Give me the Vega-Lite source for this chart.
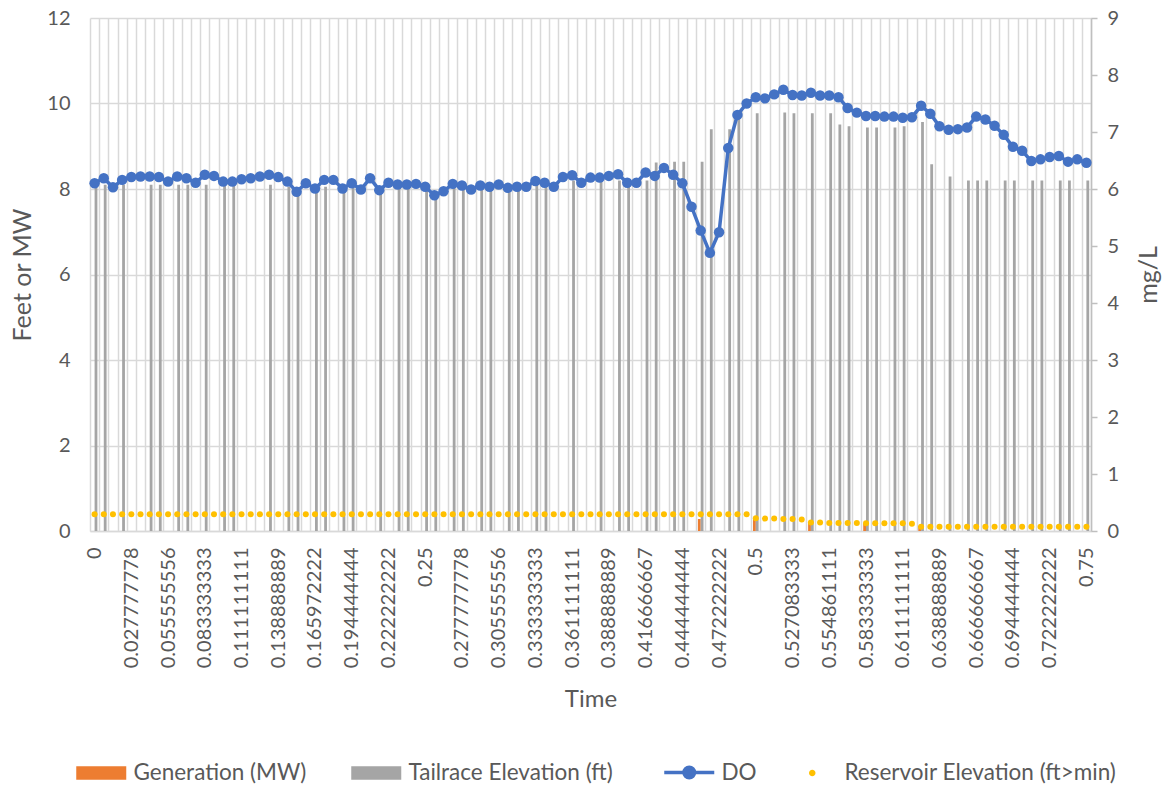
{
  "$schema": "https://vega.github.io/schema/vega-lite/v6.json",
  "width": 1001,
  "height": 513,
  "autosize": {"type": "none"},
  "padding": {"left": 90, "top": 18, "right": 75, "bottom": 259},
  "background": "white",
  "config": {
    "view": {"stroke": null},
    "font": "Lato",
    "axis": {"labelFont": "Lato", "titleFont": "Lato", "labelColor": "#595959", "titleColor": "#595959", "titleFontWeight": "normal"},
    "legend": {"labelFont": "Lato"}
  },
  "data": {"values": [
    {"t":"0","do":6.10,"res":0.39,"tail":8.1},
    {"t":"0.006944444","do":6.19,"res":0.39,"tail":8.1},
    {"t":"0.013888889","do":6.03,"res":0.39},
    {"t":"0.020833333","do":6.16,"res":0.39,"tail":8.1},
    {"t":"0.027777778","do":6.21,"res":0.39},
    {"t":"0.034722222","do":6.22,"res":0.39},
    {"t":"0.041666667","do":6.22,"res":0.39,"tail":8.1},
    {"t":"0.048611111","do":6.21,"res":0.39,"tail":8.1},
    {"t":"0.055555556","do":6.13,"res":0.39},
    {"t":"0.0625","do":6.22,"res":0.39,"tail":8.1},
    {"t":"0.069444444","do":6.19,"res":0.39,"tail":8.1},
    {"t":"0.076388889","do":6.11,"res":0.39},
    {"t":"0.083333333","do":6.25,"res":0.39,"tail":8.1},
    {"t":"0.090277778","do":6.23,"res":0.39},
    {"t":"0.097222222","do":6.13,"res":0.39,"tail":8.1},
    {"t":"0.104166667","do":6.13,"res":0.39,"tail":8.1},
    {"t":"0.111111111","do":6.17,"res":0.39},
    {"t":"0.118055556","do":6.19,"res":0.39},
    {"t":"0.125","do":6.22,"res":0.39},
    {"t":"0.131944444","do":6.25,"res":0.39,"tail":8.1},
    {"t":"0.138888889","do":6.21,"res":0.39},
    {"t":"0.145833333","do":6.13,"res":0.39,"tail":8.05},
    {"t":"0.152777778","do":5.95,"res":0.39,"tail":7.95},
    {"t":"0.159722222","do":6.10,"res":0.39},
    {"t":"0.165972222","do":6.01,"res":0.39,"tail":8.0},
    {"t":"0.173611111","do":6.16,"res":0.39,"tail":8.05},
    {"t":"0.180555556","do":6.16,"res":0.39},
    {"t":"0.1875","do":6.01,"res":0.39,"tail":8.0},
    {"t":"0.194444444","do":6.10,"res":0.39,"tail":8.05},
    {"t":"0.201388889","do":5.99,"res":0.39},
    {"t":"0.208333333","do":6.19,"res":0.39},
    {"t":"0.215277778","do":5.98,"res":0.39,"tail":8.0},
    {"t":"0.222222222","do":6.11,"res":0.39},
    {"t":"0.229166667","do":6.08,"res":0.39,"tail":8.05},
    {"t":"0.236111111","do":6.08,"res":0.39,"tail":8.05},
    {"t":"0.243055556","do":6.09,"res":0.39},
    {"t":"0.25","do":6.04,"res":0.39,"tail":8.0},
    {"t":"0.256944444","do":5.89,"res":0.39,"tail":7.85},
    {"t":"0.263888889","do":5.96,"res":0.39},
    {"t":"0.270833333","do":6.09,"res":0.39,"tail":8.05},
    {"t":"0.277777778","do":6.06,"res":0.39,"tail":8.05},
    {"t":"0.284722222","do":5.99,"res":0.39},
    {"t":"0.291666667","do":6.06,"res":0.39,"tail":8.05},
    {"t":"0.298611111","do":6.04,"res":0.39,"tail":8.0},
    {"t":"0.305555556","do":6.08,"res":0.39},
    {"t":"0.3125","do":6.02,"res":0.39,"tail":8.0},
    {"t":"0.319444444","do":6.04,"res":0.39,"tail":8.0},
    {"t":"0.326388889","do":6.04,"res":0.39},
    {"t":"0.333333333","do":6.14,"res":0.39,"tail":8.1},
    {"t":"0.340277778","do":6.11,"res":0.39,"tail":8.1},
    {"t":"0.347222222","do":6.04,"res":0.39},
    {"t":"0.354166667","do":6.21,"res":0.39},
    {"t":"0.361111111","do":6.24,"res":0.39,"tail":8.2},
    {"t":"0.368055556","do":6.11,"res":0.39},
    {"t":"0.375","do":6.20,"res":0.39},
    {"t":"0.381944444","do":6.20,"res":0.39,"tail":8.2},
    {"t":"0.388888889","do":6.23,"res":0.39},
    {"t":"0.395833333","do":6.26,"res":0.39,"tail":8.2},
    {"t":"0.402777778","do":6.11,"res":0.39,"tail":8.1},
    {"t":"0.409722222","do":6.11,"res":0.39},
    {"t":"0.416666667","do":6.29,"res":0.39,"tail":8.2},
    {"t":"0.423611111","do":6.23,"res":0.39,"tail":8.62},
    {"t":"0.430555556","do":6.37,"res":0.39},
    {"t":"0.4375","do":6.25,"res":0.39,"tail":8.64},
    {"t":"0.444444444","do":6.10,"res":0.39,"tail":8.64},
    {"t":"0.451388889","do":5.69,"res":0.39},
    {"t":"0.458333333","do":5.27,"res":0.39,"tail":8.64,"gen":0.28},
    {"t":"0.465277778","do":4.88,"res":0.39,"tail":9.4},
    {"t":"0.472222222","do":5.24,"res":0.39},
    {"t":"0.479166667","do":6.72,"res":0.39,"tail":9.4},
    {"t":"0.486111111","do":7.30,"res":0.39,"tail":9.77},
    {"t":"0.493055556","do":7.50,"res":0.39},
    {"t":"0.5","do":7.61,"res":0.30,"tail":9.77,"gen":0.3},
    {"t":"0.506944444","do":7.59,"res":0.29},
    {"t":"0.513888889","do":7.66,"res":0.29},
    {"t":"0.520833333","do":7.74,"res":0.28,"tail":9.79},
    {"t":"0.527083333","do":7.65,"res":0.28,"tail":9.77},
    {"t":"0.534027778","do":7.64,"res":0.27},
    {"t":"0.540972222","do":7.69,"res":0.20,"tail":9.77,"gen":0.2},
    {"t":"0.547916667","do":7.64,"res":0.20},
    {"t":"0.554861111","do":7.64,"res":0.19,"tail":9.77},
    {"t":"0.5625","do":7.61,"res":0.19,"tail":9.51},
    {"t":"0.569444444","do":7.42,"res":0.19,"tail":9.47},
    {"t":"0.576388889","do":7.34,"res":0.19},
    {"t":"0.583333333","do":7.28,"res":0.18,"tail":9.44,"gen":0.17},
    {"t":"0.590277778","do":7.28,"res":0.18,"tail":9.44},
    {"t":"0.597222222","do":7.27,"res":0.18},
    {"t":"0.604166667","do":7.27,"res":0.18,"tail":9.44},
    {"t":"0.611111111","do":7.25,"res":0.18,"tail":9.47},
    {"t":"0.618055556","do":7.26,"res":0.17},
    {"t":"0.625","do":7.46,"res":0.10,"tail":9.57,"gen":0.12},
    {"t":"0.631944444","do":7.32,"res":0.10,"tail":8.58},
    {"t":"0.638888889","do":7.10,"res":0.10},
    {"t":"0.645833333","do":7.04,"res":0.10,"tail":8.29},
    {"t":"0.652777778","do":7.05,"res":0.10},
    {"t":"0.659722222","do":7.08,"res":0.10,"tail":8.2},
    {"t":"0.666666667","do":7.27,"res":0.10,"tail":8.2},
    {"t":"0.673611111","do":7.22,"res":0.10,"tail":8.2},
    {"t":"0.680555556","do":7.11,"res":0.10},
    {"t":"0.6875","do":6.95,"res":0.10,"tail":8.2},
    {"t":"0.694444444","do":6.74,"res":0.10,"tail":8.2},
    {"t":"0.701388889","do":6.67,"res":0.10},
    {"t":"0.708333333","do":6.49,"res":0.10,"tail":8.2},
    {"t":"0.715277778","do":6.52,"res":0.10,"tail":8.2},
    {"t":"0.722222222","do":6.56,"res":0.10},
    {"t":"0.729166667","do":6.58,"res":0.10,"tail":8.2},
    {"t":"0.736111111","do":6.48,"res":0.10,"tail":8.2},
    {"t":"0.743055556","do":6.52,"res":0.10},
    {"t":"0.75","do":6.46,"res":0.10,"tail":8.2}
  ]},
  "encoding": {
    "x": {
      "field": "t", "type": "ordinal",
      "scale": {"paddingInner": 0, "paddingOuter": 0},
      "axis": {
        "title": "Time",
        "labelAngle": 270,
        "labelFontSize": 20,
        "labelPadding": 16,
        "labelOverlap": false,
        "labelBound": false,
        "labelExpr": "indexof(['0','0.027777778','0.055555556','0.083333333','0.111111111','0.138888889','0.165972222','0.194444444','0.222222222','0.25','0.277777778','0.305555556','0.333333333','0.361111111','0.388888889','0.416666667','0.444444444','0.472222222','0.5','0.527083333','0.554861111','0.583333333','0.611111111','0.638888889','0.666666667','0.694444444','0.722222222','0.75'], datum.value) >= 0 ? datum.value : ''",
        "ticks": false,
        "tickBand": "extent",
        "grid": true,
        "gridColor": "#D9D9D9",
        "gridWidth": 1.5,
        "domainColor": "#D9D9D9",
        "domainWidth": 1.5,
        "titleFontSize": 24,
        "titlePadding": 20
      }
    }
  },
  "layer": [
    {
      "layer": [
        {
          "mark": {"type": "bar", "width": 2.8, "xOffset": -1.4},
          "encoding": {
            "y": {
              "field": "gen", "type": "quantitative",
              "scale": {"domain": [0, 12], "nice": false},
              "axis": {
                "title": "Feet or MW",
                "values": [0, 2, 4, 6, 8, 10, 12],
                "grid": true, "gridColor": "#D9D9D9", "gridWidth": 1.5,
                "domain": false, "ticks": false,
                "labelFontSize": 20, "labelPadding": 20,
                "titleFontSize": 25, "titlePadding": 11
              }
            },
            "color": {
              "datum": "Generation (MW)", "type": "nominal",
              "scale": {
                "domain": ["Generation (MW)", "Tailrace Elevation (ft)", "DO", "Reservoir Elevation (ft>min)"],
                "range": ["#ED7D31", "#A5A5A5", "#4472C4", "#FFC000"]
              },
              "legend": {
                "orient": "bottom",
                "direction": "horizontal",
                "columns": 4,
                "title": null,
                "symbolSize": 2500,
                "symbolOpacity": 1,
                "labelFontSize": 22.5,
                "labelColor": "#595959",
                "labelOffset": 21,
                "labelLimit": 500,
                "columnPadding": 44,
                "offset": 49,
                "encode": {
                  "symbols": {
                    "update": {
                      "shape": {"signal": "datum.value === 'DO' ? 'M-1,0H1M-0.21,0A0.21,0.21 0 1 1 0.21,0A0.21,0.21 0 1 1 -0.21,0' : datum.value === 'Reservoir Elevation (ft>min)' ? 'M-0.13,0A0.13,0.13 0 1 1 0.13,0A0.13,0.13 0 1 1 -0.13,0' : 'M-1,-0.27H1V0.27H-1Z'"},
                      "fill": {"signal": "datum.value === 'DO' ? '#4472C4' : datum.value === 'Tailrace Elevation (ft)' ? '#A5A5A5' : datum.value === 'Generation (MW)' ? '#ED7D31' : '#FFC000'"},
                      "stroke": {"signal": "datum.value === 'DO' ? '#4472C4' : 'transparent'"},
                      "strokeWidth": {"signal": "datum.value === 'DO' ? 3.5 : 0"},
                      "opacity": {"value": 1}
                    }
                  }
                }
              }
            }
          }
        },
        {
          "mark": {"type": "bar", "width": 2.8, "xOffset": 1.4},
          "encoding": {
            "y": {"field": "tail", "type": "quantitative"},
            "color": {"datum": "Tailrace Elevation (ft)", "type": "nominal"}
          }
        },
        {
          "mark": {"type": "point", "filled": true, "size": 36, "opacity": 1},
          "encoding": {
            "y": {"field": "res", "type": "quantitative"},
            "color": {"datum": "Reservoir Elevation (ft>min)", "type": "nominal"}
          }
        }
      ]
    },
    {
      "mark": {"type": "line", "strokeWidth": 3.5, "point": {"filled": true, "size": 110, "opacity": 1}},
      "encoding": {
        "y": {
          "field": "do", "type": "quantitative",
          "scale": {"domain": [0, 9], "nice": false},
          "axis": {
            "orient": "right",
            "title": "mg/L",
            "values": [0, 1, 2, 3, 4, 5, 6, 7, 8, 9],
            "grid": false,
            "domain": true, "domainColor": "#BFBFBF", "domainWidth": 1.5,
            "ticks": true, "tickColor": "#BFBFBF", "tickSize": 6, "tickWidth": 1.5,
            "labelFontSize": 20, "labelPadding": 10,
            "titleAngle": 270,
            "titleFontSize": 25, "titlePadding": 43
          }
        },
        "color": {"datum": "DO", "type": "nominal"}
      }
    }
  ],
  "resolve": {"scale": {"y": "independent"}}
}
